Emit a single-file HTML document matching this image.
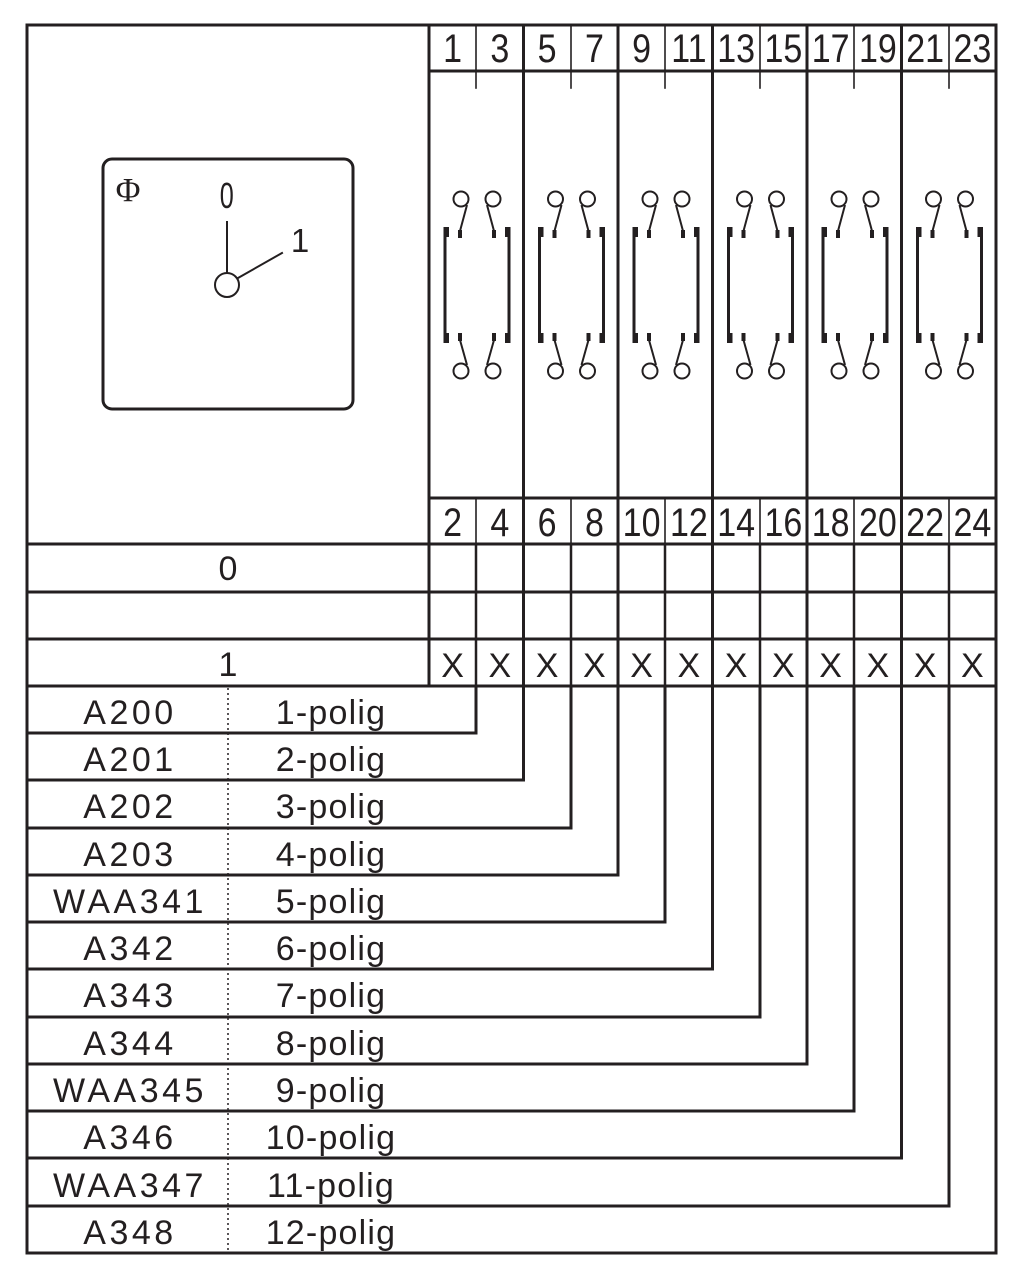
<!DOCTYPE html>
<html><head><meta charset="utf-8"><style>
html,body{margin:0;padding:0;background:#fff;}
svg{display:block;}
text{font-family:"Liberation Sans",sans-serif;fill:#231f20;}
</style></head><body>
<svg width="1029" height="1278" viewBox="0 0 1029 1278" xmlns="http://www.w3.org/2000/svg">
<defs>
<g id="cg" stroke="#231f20" fill="none">
<line x1="445" y1="227" x2="445" y2="343" stroke-width="3"/>
<rect x="445" y="227" width="4" height="10" fill="#231f20" stroke="none"/>
<rect x="445" y="333" width="4" height="10" fill="#231f20" stroke="none"/>
<line x1="509" y1="227" x2="509" y2="343" stroke-width="3"/>
<rect x="505" y="227" width="4" height="10" fill="#231f20" stroke="none"/>
<rect x="505" y="333" width="4" height="10" fill="#231f20" stroke="none"/>
<rect x="458" y="230" width="4" height="8" fill="#231f20" stroke="none"/>
<rect x="492" y="230" width="4" height="8" fill="#231f20" stroke="none"/>
<rect x="458" y="333" width="4" height="8" fill="#231f20" stroke="none"/>
<rect x="492" y="333" width="4" height="8" fill="#231f20" stroke="none"/>
<line x1="460" y1="231" x2="467" y2="205" stroke-width="2"/>
<line x1="494" y1="231" x2="487" y2="205" stroke-width="2"/>
<line x1="460" y1="340" x2="467" y2="365" stroke-width="2"/>
<line x1="494" y1="340" x2="487" y2="365" stroke-width="2"/>
<circle cx="461" cy="199" r="7.5" stroke-width="2"/>
<circle cx="493" cy="199" r="7.5" stroke-width="2"/>
<circle cx="461" cy="371" r="7.5" stroke-width="2"/>
<circle cx="493" cy="371" r="7.5" stroke-width="2"/>
</g>
</defs>

<g stroke="#231f20" fill="none" stroke-linecap="square">
<rect x="27" y="25" width="969" height="1228" stroke-width="3"/>
<g stroke-width="3">
<line x1="429" y1="25" x2="429" y2="686"/>
<line x1="523.5" y1="25" x2="523.5" y2="686"/>
<line x1="618" y1="25" x2="618" y2="686"/>
<line x1="712.5" y1="25" x2="712.5" y2="686"/>
<line x1="807" y1="25" x2="807" y2="686"/>
<line x1="901.5" y1="25" x2="901.5" y2="686"/>
<line x1="429" y1="71" x2="996" y2="71"/>
<line x1="429" y1="498" x2="996" y2="498"/>
<line x1="27" y1="544" x2="996" y2="544"/>
<line x1="27" y1="592" x2="996" y2="592"/>
<line x1="27" y1="639" x2="996" y2="639"/>
<line x1="27" y1="686" x2="996" y2="686"/>
</g>
<g stroke-width="1.6">
<line x1="476" y1="25" x2="476" y2="88"/>
<line x1="571" y1="25" x2="571" y2="88"/>
<line x1="665" y1="25" x2="665" y2="88"/>
<line x1="760" y1="25" x2="760" y2="88"/>
<line x1="854" y1="25" x2="854" y2="88"/>
<line x1="949" y1="25" x2="949" y2="88"/>
<line x1="476" y1="498" x2="476" y2="544"/>
<line x1="571" y1="498" x2="571" y2="544"/>
<line x1="665" y1="498" x2="665" y2="544"/>
<line x1="760" y1="498" x2="760" y2="544"/>
<line x1="854" y1="498" x2="854" y2="544"/>
<line x1="949" y1="498" x2="949" y2="544"/>
</g>
<g stroke-width="2.5">
<line x1="476" y1="544" x2="476" y2="686"/>
<line x1="571" y1="544" x2="571" y2="686"/>
<line x1="665" y1="544" x2="665" y2="686"/>
<line x1="760" y1="544" x2="760" y2="686"/>
<line x1="854" y1="544" x2="854" y2="686"/>
<line x1="949" y1="544" x2="949" y2="686"/>
</g>
<g stroke-width="3">
<polyline points="27,733 476,733 476,686"/>
<polyline points="27,780 523.5,780 523.5,686"/>
<polyline points="27,828 571,828 571,686"/>
<polyline points="27,875 618,875 618,686"/>
<polyline points="27,922 665,922 665,686"/>
<polyline points="27,969 712.5,969 712.5,686"/>
<polyline points="27,1017 760,1017 760,686"/>
<polyline points="27,1064 807,1064 807,686"/>
<polyline points="27,1111 854,1111 854,686"/>
<polyline points="27,1158 901.5,1158 901.5,686"/>
<polyline points="27,1206 949,1206 949,686"/>
</g>
<line x1="228" y1="688" x2="228" y2="1251" stroke-width="1.5" stroke-dasharray="2,3" stroke-linecap="butt"/>
<rect x="103" y="159" width="250" height="250" rx="9" stroke-width="3"/>
<line x1="227" y1="222" x2="227" y2="273" stroke-width="2"/>
<circle cx="227" cy="285" r="12" stroke-width="2"/>
<line x1="238" y1="278" x2="282" y2="253" stroke-width="2"/>
</g>

<use href="#cg"/>
<use href="#cg" transform="translate(94.5,0)"/>
<use href="#cg" transform="translate(189,0)"/>
<use href="#cg" transform="translate(283.5,0)"/>
<use href="#cg" transform="translate(378,0)"/>
<use href="#cg" transform="translate(472.5,0)"/>

<text x="128" y="201" font-size="34" text-anchor="middle" style="font-family:'Liberation Serif',serif">Φ</text>
<text x="324" y="208" font-size="36" text-anchor="middle" transform="scale(0.7 1)">0</text>
<text x="300" y="252" font-size="33" text-anchor="middle">1</text>

<g font-size="40" text-anchor="middle" transform="scale(0.85 1)">
<text x="532.5" y="62">1</text><text x="588.1" y="62">3</text><text x="643.6" y="62">5</text><text x="699.3" y="62">7</text>
<text x="754.8" y="62">9</text><text x="810.5" y="62">11</text><text x="866" y="62">13</text><text x="921.6" y="62">15</text>
<text x="977.2" y="62">17</text><text x="1032.8" y="62">19</text><text x="1088.4" y="62">21</text><text x="1144" y="62">23</text>
<text x="532.5" y="536">2</text><text x="588.1" y="536">4</text><text x="643.6" y="536">6</text><text x="699.3" y="536">8</text>
<text x="754.8" y="536">10</text><text x="810.5" y="536">12</text><text x="866" y="536">14</text><text x="921.6" y="536">16</text>
<text x="977.2" y="536">18</text><text x="1032.8" y="536">20</text><text x="1088.4" y="536">22</text><text x="1144" y="536">24</text>
</g>
<g font-size="34" text-anchor="middle">
<text x="228" y="580">0</text>
<text x="228" y="676">1</text>
<text x="452.6" y="677">X</text><text x="499.9" y="677">X</text><text x="547.1" y="677">X</text><text x="594.4" y="677">X</text>
<text x="641.6" y="677">X</text><text x="688.9" y="677">X</text><text x="736.1" y="677">X</text><text x="783.4" y="677">X</text>
<text x="830.6" y="677">X</text><text x="877.9" y="677">X</text><text x="925.1" y="677">X</text><text x="972.4" y="677">X</text>
</g>
<g font-size="34" text-anchor="middle" letter-spacing="3.5">
<text x="130" y="724">A200</text>
<text x="130" y="771">A201</text>
<text x="130" y="818">A202</text>
<text x="130" y="866">A203</text>
<text x="130" y="913">WAA341</text>
<text x="130" y="960">A342</text>
<text x="130" y="1007">A343</text>
<text x="130" y="1055">A344</text>
<text x="130" y="1102">WAA345</text>
<text x="130" y="1149">A346</text>
<text x="130" y="1197">WAA347</text>
<text x="130" y="1244">A348</text>
</g>
<g font-size="34" text-anchor="middle" letter-spacing="1.2">
<text x="331" y="724">1-polig</text>
<text x="331" y="771">2-polig</text>
<text x="331" y="818">3-polig</text>
<text x="331" y="866">4-polig</text>
<text x="331" y="913">5-polig</text>
<text x="331" y="960">6-polig</text>
<text x="331" y="1007">7-polig</text>
<text x="331" y="1055">8-polig</text>
<text x="331" y="1102">9-polig</text>
<text x="331" y="1149">10-polig</text>
<text x="331" y="1197">11-polig</text>
<text x="331" y="1244">12-polig</text>
</g>
</svg>
</body></html>
